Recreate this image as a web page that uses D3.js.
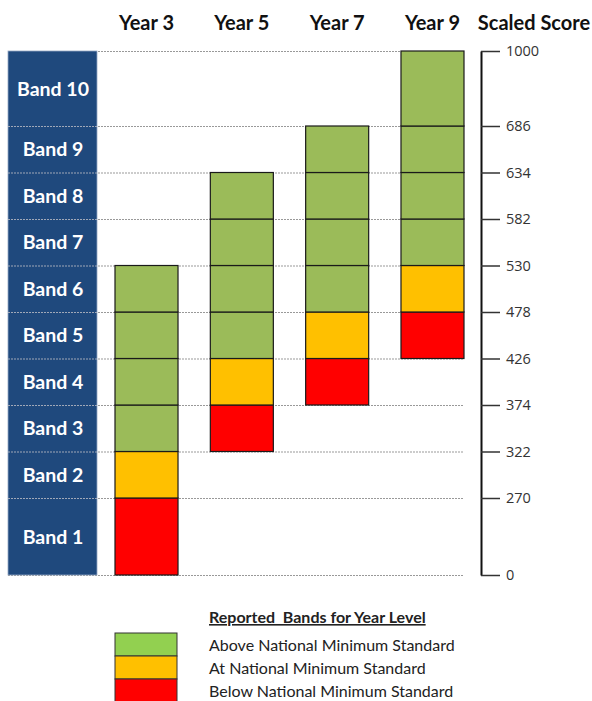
<!DOCTYPE html>
<html>
<head>
<meta charset="utf-8">
<script src="https://cdn.jsdelivr.net/npm/d3@7.9.0/dist/d3.min.js"></script>
<style>
  body { margin: 0; background: #fff; }
  svg { display: block; font-family: Lato, "Open Sans", sans-serif; }
</style>
</head>
<body>
<svg id="chart" width="592" height="701"></svg>
<script>
// data
const years = ['Year 3', 'Year 5', 'Year 7', 'Year 9'];
const bandNames = ['Band 1', 'Band 2', 'Band 3', 'Band 4', 'Band 5',
                   'Band 6', 'Band 7', 'Band 8', 'Band 9', 'Band 10'];
const cutScores = [0, 270, 322, 374, 426, 478, 530, 582, 634, 686, 1000];
const belowBand = [1, 3, 4, 5];   // red band per year
const atBand = [2, 4, 5, 6];      // orange band per year
const topBand = [6, 8, 9, 10];    // highest reported band per year
const legendLabels = ['Above National Minimum Standard',
                      'At National Minimum Standard',
                      'Below National Minimum Standard'];

const colors = { above: '#9bbb59', at: '#ffc000', below: '#ff0000' };
const legendColors = ['#92d050', '#ffc000', '#ff0000'];

const svg = d3.select('#chart');

// vertical layout: band 1 and band 10 are taller than the middle bands
const yTop = 51, yBottom = 575;
const h10 = 75, h1 = 77;
const hMid = (yBottom - yTop - h10 - h1) / 8;
const yRange = [yBottom, yBottom - h1];
for (let i = 1; i <= 8; i++) yRange.push(yBottom - h1 - hMid * i);
yRange.push(yTop);

const y = d3.scaleLinear().domain(cutScores).range(yRange);

const x = d3.scaleBand()
    .domain(years)
    .range([115, 464])
    .paddingInner(0.339)
    .paddingOuter(0);

// cells
const cells = [];
years.forEach((yr, i) => {
    for (let b = belowBand[i]; b <= topBand[i]; b++) {
        let type = 'above';
        if (b === belowBand[i]) type = 'below';
        else if (b === atBand[i]) type = 'at';
        cells.push({ year: yr, band: b, type });
    }
});

// dotted gridlines
svg.append('g')
    .selectAll('line')
    .data(cutScores)
    .join('line')
    .attr('x1', 8)
    .attr('x2', 464)
    .attr('y1', d => y(d) + 0.5)
    .attr('y2', d => y(d) + 0.5)
    .attr('stroke', '#999')
    .attr('stroke-width', 1)
    .attr('stroke-dasharray', '2,1');

// band label column
svg.append('rect')
    .attr('x', 8)
    .attr('y', yTop)
    .attr('width', 89)
    .attr('height', yBottom - yTop)
    .attr('fill', '#1f497d')
    .attr('stroke', '#95a8c4')
    .attr('stroke-width', 0.8);

svg.append('g')
    .selectAll('line')
    .data(cutScores.slice(1, -1))
    .join('line')
    .attr('x1', 8)
    .attr('x2', 97)
    .attr('y1', d => y(d) + 0.5)
    .attr('y2', d => y(d) + 0.5)
    .attr('stroke', '#a0a8b8')
    .attr('stroke-width', 1)
    .attr('stroke-dasharray', '2,1');

svg.append('g')
    .selectAll('text')
    .data(bandNames)
    .join('text')
    .attr('x', 53)
    .attr('y', (d, i) => (y(cutScores[i]) + y(cutScores[i + 1])) / 2)
    .attr('dy', '0.36em')
    .attr('text-anchor', 'middle')
    .attr('fill', '#fff')
    .attr('font-size', 19.5)
    .attr('font-weight', 'bold')
    .text(d => d);

// year cells
svg.append('g')
    .selectAll('rect')
    .data(cells)
    .join('rect')
    .attr('x', d => x(d.year))
    .attr('y', d => y(cutScores[d.band]))
    .attr('width', x.bandwidth())
    .attr('height', d => y(cutScores[d.band - 1]) - y(cutScores[d.band]))
    .attr('fill', d => colors[d.type])
    .attr('stroke', '#1a1a1a')
    .attr('stroke-width', 1.2);

// headers
svg.append('g')
    .selectAll('text')
    .data(years)
    .join('text')
    .attr('x', d => x(d) + x.bandwidth() / 2)
    .attr('y', 30)
    .attr('text-anchor', 'middle')
    .attr('font-size', 20)
    .attr('font-weight', 'bold')
    .attr('fill', '#111')
    .text(d => d);

svg.append('text')
    .attr('x', 534)
    .attr('y', 30)
    .attr('text-anchor', 'middle')
    .attr('font-size', 20)
    .attr('font-weight', 'bold')
    .attr('fill', '#111')
    .text('Scaled Score');

// scaled score axis
const axis = svg.append('g')
    .attr('transform', 'translate(481,0)')
    .call(d3.axisRight(y)
        .tickValues(cutScores)
        .tickFormat(d3.format('d'))
        .tickSize(19)
        .tickPadding(6)
        .tickSizeOuter(0));
axis.select('.domain').attr('stroke', '#111').attr('stroke-width', 2);
axis.selectAll('.tick line').attr('stroke', '#333').attr('stroke-width', 1.5);
axis.selectAll('.tick text')
    .attr('font-size', 14.5)
    .attr('font-family', '"Open Sans", sans-serif')
    .attr('fill', '#333');

// legend
svg.append('text')
    .attr('x', 209)
    .attr('y', 623)
    .attr('font-size', 16)
    .attr('font-weight', 'bold')
    .attr('text-decoration', 'underline')
    .attr('fill', '#222')
    .style('white-space', 'pre')
    .text('Reported  Bands for Year Level');

const legend = svg.append('g');
legend.selectAll('rect')
    .data(legendLabels)
    .join('rect')
    .attr('x', 115)
    .attr('y', (d, i) => 633 + i * 23)
    .attr('width', 62)
    .attr('height', 23)
    .attr('fill', (d, i) => legendColors[i])
    .attr('stroke', '#333')
    .attr('stroke-width', 1);

legend.selectAll('text')
    .data(legendLabels)
    .join('text')
    .attr('x', 209)
    .attr('y', (d, i) => 645 + i * 23)
    .attr('dy', '0.35em')
    .attr('font-size', 16)
    .attr('fill', '#222')
    .text(d => d);
</script>
</body>
</html>
